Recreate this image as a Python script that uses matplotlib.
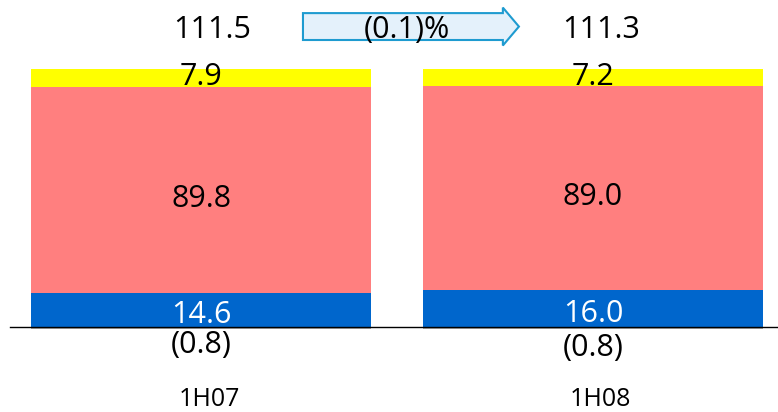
import matplotlib.pyplot as plt
from matplotlib.patches import FancyArrow

# half-year revenue build-up
periods = ["1H07", "1H08"]
blue_vals = [14.6, 16.0]
red_vals = [89.8, 89.0]
yellow_vals = [7.9, 7.2]
negative_vals = [-0.8, -0.8]
totals = [111.5, 111.3]
change_label = "(0.1)%"

blue_color = "#0066cc"
red_color = "#ff7f7f"
yellow_color = "#ffff00"
gray_color = "#a6a6a6"

plt.rcParams["font.family"] = ["Open Sans", "DejaVu Sans"]

fig = plt.figure(figsize=(7.78, 4.12), dpi=100)
ax = fig.add_axes([0, 0, 1, 1])
ax.set_xlim(-0.513, 1.472)
ax.set_ylim(-37.0, 142.2)
ax.axis("off")

x = list(range(len(periods)))
bar_width = 0.867

ax.bar(x, negative_vals, width=bar_width, color=gray_color)
ax.bar(x, blue_vals, width=bar_width, color=blue_color)
ax.bar(x, red_vals, width=bar_width, bottom=blue_vals, color=red_color)
tops_red = [b + r for b, r in zip(blue_vals, red_vals)]
ax.bar(x, yellow_vals, width=bar_width, bottom=tops_red, color=yellow_color)

ax.axhline(0, xmin=10 / 778, xmax=1, color="black", linewidth=1)

size = 22
for i in x:
    ax.text(i, blue_vals[i] / 2 - 5.7, f"{blue_vals[i]:.1f}", ha="center", va="baseline",
            color="white", fontsize=size)
    ax.text(i, blue_vals[i] + red_vals[i] / 2 - 7.5, f"{red_vals[i]:.1f}", ha="center",
            va="baseline", fontsize=size)
    ax.text(i, tops_red[i] + yellow_vals[i] / 2 - 3.2, f"{yellow_vals[i]:.1f}", ha="center",
            va="baseline", fontsize=size)
    ax.text(i, -11.3 - 1.3 * i, f"({abs(negative_vals[i]):.1f})", ha="center",
            va="baseline", fontsize=size)
    ax.text(i + 0.029 - 0.009 * i, 125.6, f"{totals[i]:.1f}", ha="center", va="baseline",
            fontsize=size)
    ax.text(i + 0.02, -34.3, periods[i], ha="center", va="baseline", fontsize=18)

# growth arrow between the two totals
arrow = FancyArrow(0.260, 130.65, 0.551, 0, width=11.7, head_width=16.5,
                   head_length=0.041, length_includes_head=True,
                   facecolor="#e4f1fb", edgecolor="#1e9bd0", linewidth=1.5)
ax.add_patch(arrow)
ax.text(0.525, 125.6, change_label, ha="center", va="baseline", fontsize=22)

fig.savefig("out.png", dpi=100)
